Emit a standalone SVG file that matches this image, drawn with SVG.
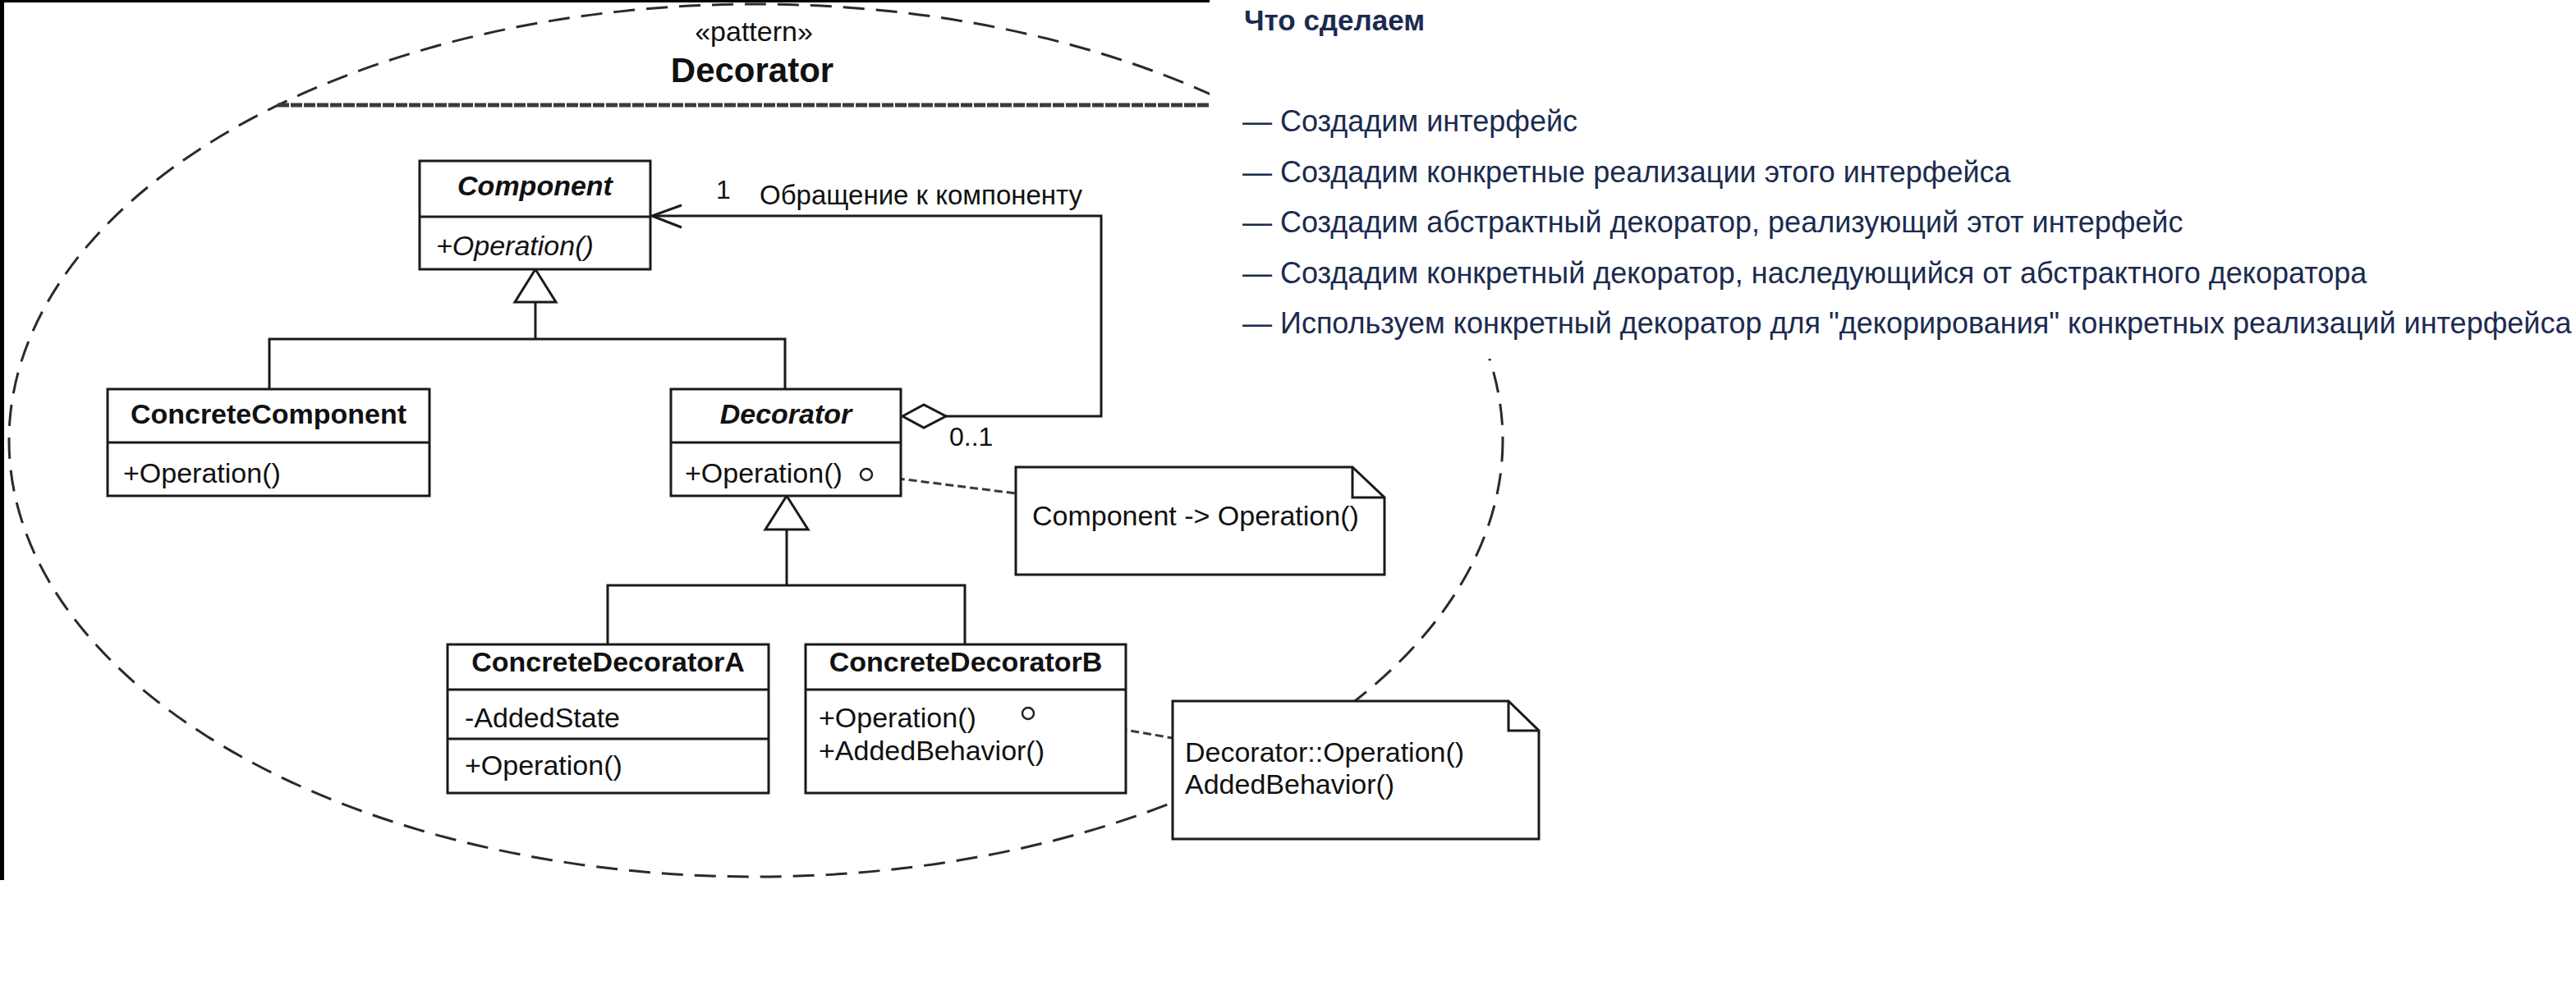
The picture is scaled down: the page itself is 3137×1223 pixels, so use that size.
<svg xmlns="http://www.w3.org/2000/svg" width="3137" height="1223" viewBox="0 0 3137 1223">
<style>
.box{fill:#fff;stroke:#1a1a1a;stroke-width:3}
.ln{fill:none;stroke:#1a1a1a;stroke-width:3}
.dl{fill:none;stroke:#3a3a3a;stroke-width:3;stroke-dasharray:10 5}
.t{font-family:"Liberation Sans",Arial,sans-serif;font-size:34px;fill:#111}
.b{font-weight:bold}
.i{font-style:italic}
.m{text-anchor:middle}
.r{font-family:"Liberation Sans",Arial,sans-serif;font-size:36px;fill:#1b2b4f}
</style>
<defs>
<clipPath id="ec">
<rect x="5" y="3" width="1468" height="1069"/>
<rect x="1473" y="437" width="1664" height="786"/>
</clipPath>
</defs>
<rect width="3137" height="1223" fill="#fff"/>
<rect x="0" y="0" width="1473" height="3" fill="#000"/>
<rect x="0" y="0" width="5" height="1072" fill="#000"/>

<g id="pattern">
<ellipse cx="920.5" cy="536.5" rx="909.5" ry="531.5" fill="none" stroke="#2a2a2a" stroke-width="3" stroke-dasharray="26 14" clip-path="url(#ec)"/>
<line x1="338" y1="128" x2="1473" y2="128" stroke="#3a3a3a" stroke-width="5" stroke-dasharray="14 2"/>
<text class="t m" x="918" y="50">«pattern»</text>
<text class="t b m" x="916" y="100" style="font-size:42px">Decorator</text>
</g>

<g id="connectors">
<polygon points="652,328 627,368 677,368" class="box"/>
<path class="ln" d="M652,368V413M328,474V413H956V474"/>
<polygon points="958,604 932,645 984,645" class="box"/>
<path class="ln" d="M958,645V713M740,785V713H1175V785"/>
<polygon points="1099,507 1125,493 1152,507 1125,521" class="box"/>
<path class="ln" d="M1152,507H1341V263H794"/>
<path class="ln" d="M830,250L794,263L830,277"/>
<path class="dl" d="M1062,579L1237,601"/>
<path class="dl" d="M1259,870L1428,899"/>
<text class="t" x="872" y="242" style="font-size:32px">1</text>
<text class="t" x="925" y="249" style="font-size:33px">Обращение к компоненту</text>
<text class="t" x="1156" y="543" style="font-size:32px">0..1</text>
</g>

<g id="component">
<rect class="box" x="511" y="196" width="281" height="132"/>
<line class="ln" x1="511" y1="264" x2="792" y2="264"/>
<text class="t b i m" x="651.5" y="238">Component</text>
<text class="t i" x="531" y="311">+Operation()</text>
</g>

<g id="concreteComponent">
<rect class="box" x="131" y="474" width="392" height="130"/>
<line class="ln" x1="131" y1="539" x2="523" y2="539"/>
<text class="t b m" x="327" y="516">ConcreteComponent</text>
<text class="t" x="150" y="588">+Operation()</text>
</g>

<g id="decorator">
<rect class="box" x="817" y="474" width="280" height="130"/>
<line class="ln" x1="817" y1="539" x2="1097" y2="539"/>
<text class="t b i m" x="957" y="516">Decorator</text>
<text class="t" x="834" y="588">+Operation()</text>
<circle cx="1055" cy="578" r="7" fill="#fff" stroke="#222" stroke-width="2.5"/>
</g>

<g id="concreteDecoratorA">
<rect class="box" x="545" y="785" width="391" height="181"/>
<line class="ln" x1="545" y1="840" x2="936" y2="840"/>
<line class="ln" x1="545" y1="900" x2="936" y2="900"/>
<text class="t b m" x="740.5" y="818">ConcreteDecoratorA</text>
<text class="t" x="566" y="886">-AddedState</text>
<text class="t" x="566" y="944">+Operation()</text>
</g>

<g id="concreteDecoratorB">
<rect class="box" x="981" y="785" width="390" height="181"/>
<line class="ln" x1="981" y1="840" x2="1371" y2="840"/>
<text class="t b m" x="1176" y="818">ConcreteDecoratorB</text>
<text class="t" x="997" y="886">+Operation()</text>
<text class="t" x="997" y="926">+AddedBehavior()</text>
<circle cx="1252" cy="869" r="7" fill="#fff" stroke="#222" stroke-width="2.5"/>
</g>

<g id="note1">
<path class="box" d="M1237,569H1647L1686,606V700H1237Z"/>
<path class="ln" d="M1647,569V606H1686"/>
<text class="t" x="1257" y="640">Component -&gt; Operation()</text>
</g>

<g id="note2">
<path class="box" d="M1428,854H1837L1874,890V1022H1428Z"/>
<path class="ln" d="M1837,854V890H1874"/>
<text class="t" x="1443" y="928">Decorator::Operation()</text>
<text class="t" x="1443" y="967">AddedBehavior()</text>
</g>

<g id="steps">
<text class="r b" x="1515" y="37" style="font-size:35px">Что сделаем</text>
<text class="r" x="1513" y="160">— Создадим интерфейс</text>
<text class="r" x="1513" y="221.5">— Создадим конкретные реализации этого интерфейса</text>
<text class="r" x="1513" y="283">— Создадим абстрактный декоратор, реализующий этот интерфейс</text>
<text class="r" x="1513" y="344.5">— Создадим конкретный декоратор, наследующийся от абстрактного декоратора</text>
<text class="r" x="1513" y="406">— Используем конкретный декоратор для "декорирования" конкретных реализаций интерфейса</text>
</g>
</svg>
